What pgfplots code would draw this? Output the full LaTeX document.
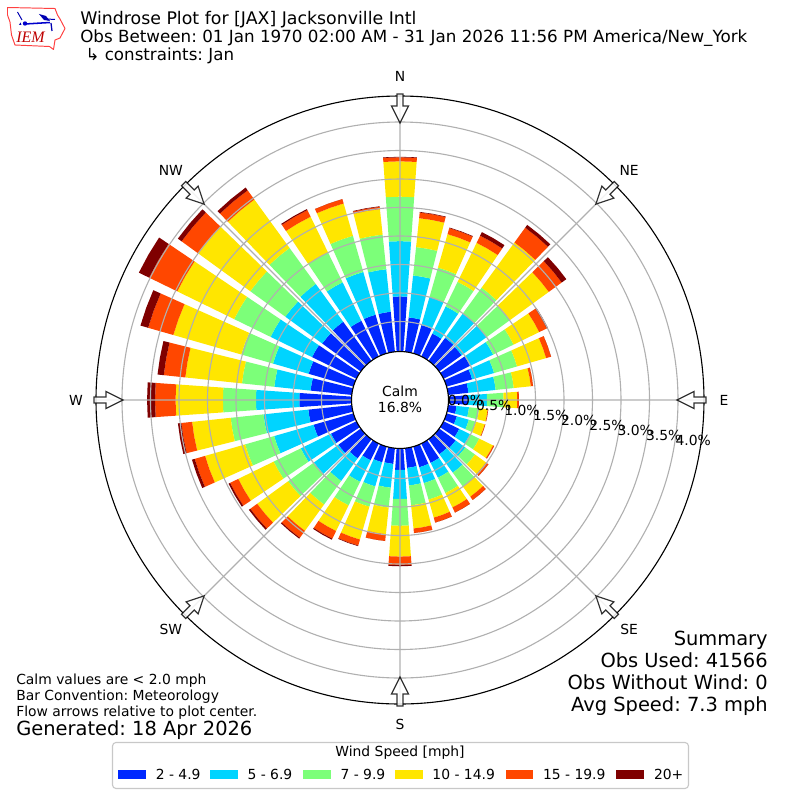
\documentclass[border=0pt]{standalone}
\usepackage{pgfplots}
\pgfplotsset{compat=1.18}
\usepgfplotslibrary{polar}
\usepackage{fontspec}
\setmainfont{DejaVu Sans}
\newfontfamily\logofont{Liberation Serif}
\definecolor{c1}{HTML}{0028FF}
\definecolor{c2}{HTML}{00D4FF}
\definecolor{c3}{HTML}{7CFF79}
\definecolor{c4}{HTML}{FFE600}
\definecolor{c5}{HTML}{FF4700}
\definecolor{c6}{HTML}{7F0000}
\definecolor{gridc}{HTML}{B0B0B0}
\newcommand{\fs}[1]{\fontsize{#1bp}{#1bp}\selectfont}
% one stacked piece of a bar: colour, lower and upper cumulative percent
\newcommand{\wseg}[3]{%
  \pgfmathsetmacro\ra{#2+0.877}\pgfmathsetmacro\rb{#3+0.877}%
  \addplot[fill=#1,draw=none,forget plot] coordinates
    {(\tl,\ra) (\tm,\ra) (\tr,\ra) (\tr,\rb) (\tm,\rb) (\tl,\rb)};}
% direction (deg), then the cumulative percent at the top of each speed class
\newcommand{\wbar}[7]{%
  \pgfmathsetmacro\tm{90-#1}\pgfmathsetmacro\tl{\tm-4}\pgfmathsetmacro\tr{\tm+4}%
  \wseg{c1}{-0.05}{#2}\wseg{c2}{#2}{#3}\wseg{c3}{#3}{#4}%
  \wseg{c4}{#4}{#5}\wseg{c5}{#5}{#6}\wseg{c6}{#6}{#7}}
\begin{document}
\frenchspacing
\begin{tikzpicture}
\useasboundingbox (0,0) rectangle (576bp,-576bp);
\begin{polaraxis}[
  at={(288bp,-288bp)},anchor=center,
  scale only axis,width=437.76bp,height=437.76bp,
  xmin=0,xmax=360,ymin=0,ymax=5.333,
  xtick={0,45,90,135,180,225,270,315},
  xticklabels={},
  ytick={1.377,1.877,2.377,2.877,3.377,3.877,4.377,4.877},
  yticklabels={},
  grid=both,
  grid style={color=gridc,line width=0.8bp},
  major tick length=0pt,
  axis on top,
  axis line style={black,line width=0.8bp},
  y axis line style={draw=none},
  clip=false,
]
\wbar{10}{.58}{1.32}{1.82}{2.33}{2.43}{2.44}
\wbar{20}{.49}{1.00}{1.54}{2.15}{2.26}{2.27}
\wbar{30}{.42}{.95}{1.43}{2.19}{2.33}{2.40}
\wbar{40}{.47}{1.00}{1.56}{2.54}{2.86}{2.92}
\wbar{50}{.46}{1.00}{1.51}{2.35}{2.63}{2.73}
\wbar{60}{.49}{.94}{1.34}{1.84}{1.99}{2.01}
\wbar{70}{.44}{.84}{1.26}{1.79}{1.88}{1.88}
\wbar{80}{.33}{.81}{1.13}{1.43}{1.47}{1.47}
\wbar{90}{.32}{.65}{.94}{1.18}{1.21}{1.21}
\wbar{100}{.12}{.34}{.52}{.67}{.68}{.68}
\wbar{110}{.16}{.38}{.51}{.67}{.68}{.68}
\wbar{120}{.28}{.49}{.67}{.94}{.96}{.96}
\wbar{130}{.33}{.54}{.75}{.99}{1.04}{1.04}
\wbar{140}{.30}{.70}{1.00}{1.22}{1.29}{1.29}
\wbar{150}{.35}{.64}{.94}{1.22}{1.32}{1.32}
\wbar{160}{.35}{.64}{.94}{1.27}{1.36}{1.36}
\wbar{170}{.32}{.63}{.98}{1.39}{1.47}{1.47}
\wbar{180}{.35}{.86}{1.33}{1.87}{2.02}{2.04}
\wbar{190}{.25}{.67}{1.02}{1.49}{1.61}{1.61}
\wbar{200}{.26}{.70}{1.07}{1.67}{1.78}{1.79}
\wbar{210}{.30}{.72}{1.18}{1.68}{1.83}{1.85}
\wbar{220}{.39}{.88}{1.39}{1.96}{2.11}{2.13}
\wbar{230}{.46}{.99}{1.55}{2.22}{2.37}{2.40}
\wbar{240}{.47}{1.06}{1.59}{2.28}{2.44}{2.47}
\wbar{250}{.70}{1.42}{1.95}{2.68}{2.87}{2.92}
\wbar{260}{.74}{1.53}{2.11}{2.79}{2.98}{3.04}
\wbar{270}{.89}{1.65}{2.23}{3.06}{3.42}{3.56}
\wbar{280}{.70}{1.34}{1.91}{2.91}{3.29}{3.40}
\wbar{290}{.79}{1.44}{2.02}{3.26}{3.72}{3.86}
\wbar{300}{.84}{1.65}{2.36}{3.47}{4.02}{4.22}
\wbar{310}{.81}{1.61}{2.37}{3.50}{3.86}{3.94}
\wbar{320}{.82}{1.64}{2.42}{3.47}{3.67}{3.73}
\wbar{330}{.67}{1.42}{2.00}{2.70}{2.83}{2.85}
\wbar{340}{.68}{1.46}{2.12}{2.71}{2.79}{2.79}
\wbar{350}{.68}{1.43}{2.04}{2.49}{2.53}{2.54}
\wbar{360}{.94}{1.91}{2.69}{3.31}{3.38}{3.39}
% compass labels
\foreach \a/\s in {0/E,45/NE,90/N,135/NW,180/W,225/SW,270/S,315/SE}{
  \edef\temp{\noexpand\node[font=\noexpand\fs{10},inner sep=0pt] at (axis cs:\a,5.684) {\s};}
  \temp
}
\end{polaraxis}
\begin{scope}[x=0.72bp,y=-0.72bp]
% centre
\draw[black,line width=0.8bp,fill=white] (400,400) circle (48.5);
\node[align=center,font=\fs{10},inner sep=0pt] at (400,399.5) {Calm\\[1.5bp]16.8\%};
% radial percent labels
\foreach \x/\y/\s in {465.5/400.7/0.0,493.7/405.7/0.5,522/410.7/1.0,550.7/415.7/1.5,578.7/420.7/2.0,607/425.7/2.5,635.3/430.7/3.0,663.7/435.7/3.5,693.3/440.7/4.0}
  \node[font=\fs{10},inner sep=0pt] at (\x,\y) {\s\%};
% flow arrows
\foreach \a in {0,45,...,315}{
  \begin{scope}[shift={(400,400)},rotate=\a]
    \draw[black,line width=0.9bp,fill=white,fill opacity=.85,draw opacity=.8,line join=miter]
      (-3,-306)--(3,-306)--(3,-294)--(8.5,-294)--(0,-277)--(-8.5,-294)--(-3,-294)--cycle;
  \end{scope}}
% titles
\node[anchor=base west,font=\fs{12.5},inner sep=0pt] at (80,24) {Windrose Plot for [JAX] Jacksonville Intl};
\node[anchor=base west,font=\fs{12.05},inner sep=0pt] at (80,42) {Obs Between: 01 Jan 1970 02:00 AM - 31 Jan 2026 11:56 PM America/New\_York};
\node[anchor=base west,font=\fs{12},inner sep=0pt] at (80,60) {\ ↳ constraints: Jan};
% notes
\node[anchor=base west,font=\fs{10},inner sep=0pt] at (16,685) {Calm values are < 2.0 mph};
\node[anchor=base west,font=\fs{10},inner sep=0pt] at (16,701) {Bar Convention: Meteorology};
\node[anchor=base west,font=\fs{10},inner sep=0pt] at (16,717) {Flow arrows relative to plot center.};
\node[anchor=base west,font=\fs{14},inner sep=0pt] at (16,736) {Generated: 18 Apr 2026};
% summary
\node[anchor=base east,font=\fs{14},inner sep=0pt] at (768,646) {Summary};
\node[anchor=base east,font=\fs{14},inner sep=0pt] at (768,668) {Obs Used: 41566};
\node[anchor=base east,font=\fs{14},inner sep=0pt] at (768,690) {Obs Without Wind: 0};
\node[anchor=base east,font=\fs{14},inner sep=0pt] at (768,712) {Avg Speed: 7.3 mph};
% legend
\draw[gridc!70,line width=0.8bp,fill=white,rounded corners=2.5bp] (112.5,742.5) rectangle (688.5,788.5);
\node[font=\fs{10},inner sep=0pt] at (400,753) {Wind Speed [mph]};
\foreach \c/\xa/\xt/\s in {c1/118/155.5/2 - 4.9,c2/209.8/247.3/5 - 6.9,c3/303.2/340.3/7 - 9.9,c4/395/432.2/10 - 14.9,c5/505.7/542.8/15 - 19.9,c6/615.9/653.8/20+}{
  \fill[\c] (\xa,770) rectangle ++(27.8,9);
  \node[anchor=west,font=\fs{10},inner sep=0pt] at (\xt,774) {\s};
}
% logo
\draw[red!75!white,line width=0.7bp,fill=white,line join=round]
  (7.5,7.5)--(55,8.5)--(57.5,15)--(60,19)--(65,28.5)--(60,38)--(55,40)--(53.5,49.5)--(49.5,46.5)--(15,45)--(11.5,35)--(10,22)--(7.5,15)--cycle;
\draw[blue!80!black,line width=1.1bp] (25,24)--(50,22.5);
\fill[blue!80!black] (25,23.5) circle (2.2);
\fill[blue!70!black] (39,14)--(46,16)--(50,21)--(44,20)--cycle;
\draw[blue!70!black,line width=0.7bp] (17.5,12)--(22,20);
\draw[blue!70!black,line width=0.7bp] (47,19)--(55,19.5);
\draw[blue!70!black,line width=0.9bp] (51,23)--(52,31);
\fill[blue!70!black] (19,25)--(21.5,25)--(20.5,22.5)--cycle;
\node[font=\logofont\itshape\fs{11.5},text=red!75!black,inner sep=0pt] at (30.5,37.5) {IEM};
\end{scope}
\end{tikzpicture}
\end{document}
